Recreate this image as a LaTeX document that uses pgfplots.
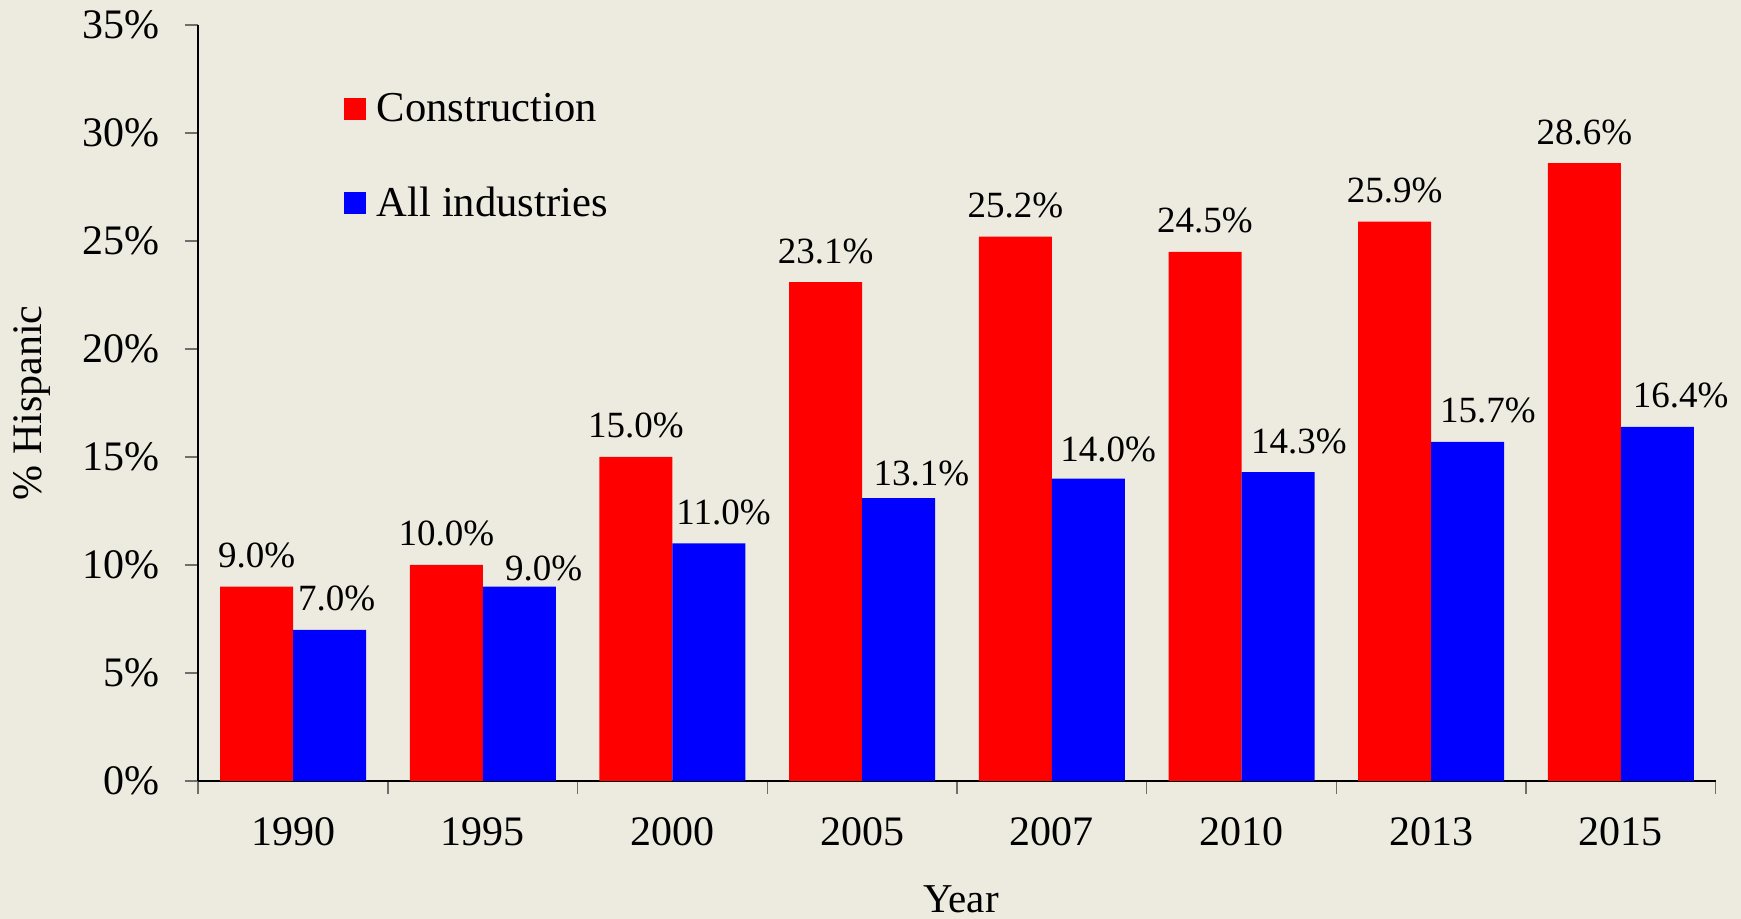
\documentclass[border=0pt]{standalone}
\usepackage{pgfplots}
\pgfplotsset{compat=1.18}
\usepackage{fontspec}
\setmainfont{Liberation Serif}
\definecolor{bg}{RGB}{237,235,224}
\definecolor{tickgray}{RGB}{110,110,110}
\begin{document}
\begin{tikzpicture}
\fill[bg] (0,0) rectangle (870.5pt,459.5pt);
\path[use as bounding box] (0,0) rectangle (870.5pt,459.5pt);
\begin{axis}[
  at={(99.15pt,69pt)}, anchor=south west,
  scale only axis, width=758.7pt, height=378pt,
  /pgf/number format/assume math mode=true,
  ybar=0pt, bar width=36.5pt,
  xmin=-0.5, xmax=7.5, ymin=0, ymax=35,
  axis x line*=bottom, axis y line*=left,
  axis line style={-,black,line width=0.8pt},
  tick align=outside, major tick length=6.5pt,
  tick style={tickgray,line width=0.8pt},
  xtick={-0.5,0.5,1.5,2.5,3.5,4.5,5.5,6.5,7.5},
  xticklabels={,,,,,,,,},
  extra x ticks={0,1,2,3,4,5,6,7},
  extra x tick labels={1990,1995,2000,2005,2007,2010,2013,2015},
  extra x tick style={major tick length=0pt,
    xticklabel style={anchor=base, inner sep=0pt, yshift=-32.3pt, font=\fontsize{21}{25}\selectfont}},
  ytick={0,5,...,35},
  yticklabel={\pgfmathprintnumber{\tick}\%},
  yticklabel style={anchor=east, inner sep=0pt, xshift=-12.7pt, font=\fontsize{21}{25}\selectfont},
  ylabel={\% Hispanic},
  xlabel={Year},
  every axis y label/.style={at={(axis description cs:0,0.5)}, xshift=-83pt, rotate=90, anchor=center, font=\fontsize{21}{25}\selectfont},
  every axis x label/.style={at={(axis description cs:0.5,0)}, anchor=base, inner sep=0pt, yshift=-66pt, xshift=2pt, font=\fontsize{20.5}{24}\selectfont},
  nodes near coords={\pgfmathprintnumber[fixed,fixed zerofill,precision=1]{\pgfplotspointmeta}\%},
  every node near coord/.append style={anchor=base, inner sep=0pt, yshift=9.5pt, text=black, font=\fontsize{18.5}{22}\selectfont},
  legend style={at={(axis description cs:0.096,0.916)}, anchor=north west, draw=none, fill=none,
    font=\fontsize{21.3}{25}\selectfont, row sep=27.3pt, inner sep=0pt,
    /tikz/every odd column/.append style={column sep=3.3pt}},
  legend cell align=left,
  legend image code/.code={\fill[#1,draw=none] (0pt,-5.5pt) rectangle (11pt,5.5pt);},
]
\addplot[fill=red, draw=none] table[x=x, y=y] {
x y
0 9.0
1 10.0
2 15.0
3 23.1
4 25.2
5 24.5
6 25.9
7 28.6
};
\addplot[fill=blue, draw=none,
  visualization depends on={value \thisrow{dx} \as \dx},
  visualization depends on={value \thisrow{dy} \as \dy},
  every node near coord/.append style={xshift=\dx pt, yshift=\dy pt}] table[x=x, y=y] {
x y dx dy
0 7.0 3.5 0
1 9.0 12.2 -6.5
2 11.0 7.3 0
3 13.1 11.4 -3
4 14.0 9.9 -1
5 14.3 10.5 0
6 15.7 10.1 0
7 16.4 11.7 0
};
\legend{Construction, All industries}
\end{axis}
\end{tikzpicture}
\end{document}
